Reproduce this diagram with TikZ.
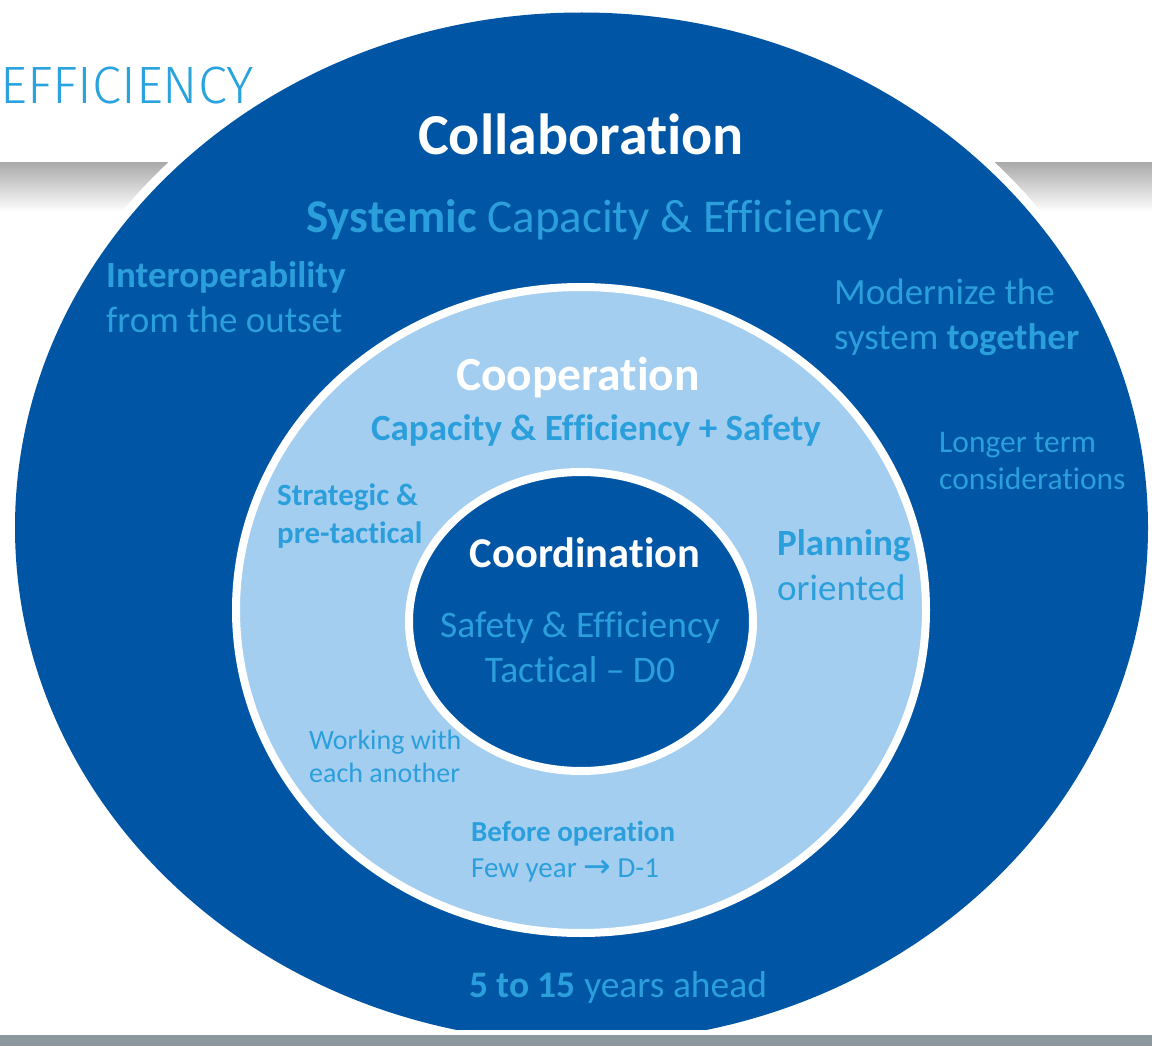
\documentclass[tikz,border=0pt]{standalone}
\usepackage{fontspec}
\setmainfont{Carlito}[Ligatures=NoCommon]
\newfontfamily\arrowfont{DejaVu Sans}
\newfontfamily\effont{Fira Sans}[UprightFont=* Light]
\definecolor{dblue}{HTML}{0055A5}
\definecolor{lblue}{HTML}{A3CEF0}
\definecolor{tblue}{HTML}{2B9FDC}
\definecolor{gbar}{HTML}{8C989E}
\definecolor{band}{HTML}{ABABAB}
\newcommand\setfs[1]{\fontsize{#1}{#1}\selectfont}
\begin{document}
\begin{tikzpicture}[x=1pt,y=-1pt,
  txt/.style={inner sep=0pt, text=tblue},
  ttl/.style={inner sep=0pt, text=white, font=\bfseries\setfs{#1}}]
\useasboundingbox (0,0) rectangle (1152,1046);
\fill[white] (0,0) rectangle (1152,1046);
% top grey band
\shade[top color=band, bottom color=white] (0,163) rectangle (1152,212);
\node[txt, anchor=base west, font=\effont\setfs{52.5}, text={rgb,255:red,41;green,163;blue,221}] (eff) at (0,104) {EFFICIENCY};
% outer ellipse
\fill[white] (581.5,527.5) ellipse [x radius=576pt, y radius=524pt];
\fill[dblue] (581.5,527.5) ellipse [x radius=566.5pt, y radius=515pt];
% middle ellipse
\fill[lblue, draw=white, line width=8pt] (581,610) ellipse [x radius=345pt, y radius=323pt];
% inner ellipse
\fill[dblue, draw=white, line width=8pt] (581,621.5) ellipse [x radius=172pt, y radius=149.5pt];
% bottom bar
\fill[white] (0,1030) rectangle (1152,1035);
\fill[gbar] (0,1035) rectangle (1152,1046);
% texts
\node[ttl=58, anchor=base] (collab) at (581,155) {Collaboration};
\node[txt, anchor=base, font=\setfs{47}] (systemic) at (595,233) {\textbf{Systemic} Capacity \& Efficiency};
\node[txt, anchor=base west, font=\bfseries\setfs{37}] (interop1) at (106,287) {Interoperability};
\node[txt, anchor=base west, font=\setfs{37}] (interop2) at (106,332) {from the outset};
\node[txt, anchor=base west, font=\setfs{37}] (modern1) at (834,304) {Modernize the};
\node[txt, anchor=base west, font=\setfs{37}] (modern2) at (834,349) {system \textbf{together}};
\node[txt, anchor=base west, font=\setfs{31.5}] (longer1) at (939,452) {Longer term};
\node[txt, anchor=base west, font=\setfs{31.5}] (longer2) at (939,489) {considerations};
\node[ttl=47.5, anchor=base] (coop) at (578,390) {Cooperation};
\node[txt, anchor=base, font=\bfseries\setfs{37}] (capsafe) at (596,440) {Capacity \& Efficiency + Safety};
\node[txt, anchor=base west, font=\bfseries\setfs{31}] (strat1) at (277,505) {Strategic \&};
\node[txt, anchor=base west, font=\bfseries\setfs{31}] (strat2) at (277,543) {pre-tactical};
\node[txt, anchor=base west, font=\bfseries\setfs{37}] (plan1) at (777,555) {Planning};
\node[txt, anchor=base west, font=\setfs{37}] (plan2) at (777,600) {oriented};
\node[ttl=42.5, anchor=base] (coord) at (585,567) {Coordination};
\node[txt, anchor=base, font=\setfs{37.5}] (safeff) at (580,637) {Safety \& Efficiency};
\node[txt, anchor=base, font=\setfs{37.5}] (tact) at (580,682) {Tactical -- D0};
\node[txt, anchor=base west, font=\setfs{28}] (work1) at (309,749) {Working with};
\node[txt, anchor=base west, font=\setfs{28}] (work2) at (309,782) {each another};
\node[txt, anchor=base west, font=\bfseries\setfs{29}] (before1) at (471,841) {Before operation};
\node[txt, anchor=base west, font=\setfs{29}] (before2) at (471,877) {Few year {\arrowfont\setfs{33}→} D-1};
\node[txt, anchor=base, font=\setfs{37.5}] (years) at (618,997) {\textbf{5 to 15} years ahead};
\end{tikzpicture}
\end{document}
